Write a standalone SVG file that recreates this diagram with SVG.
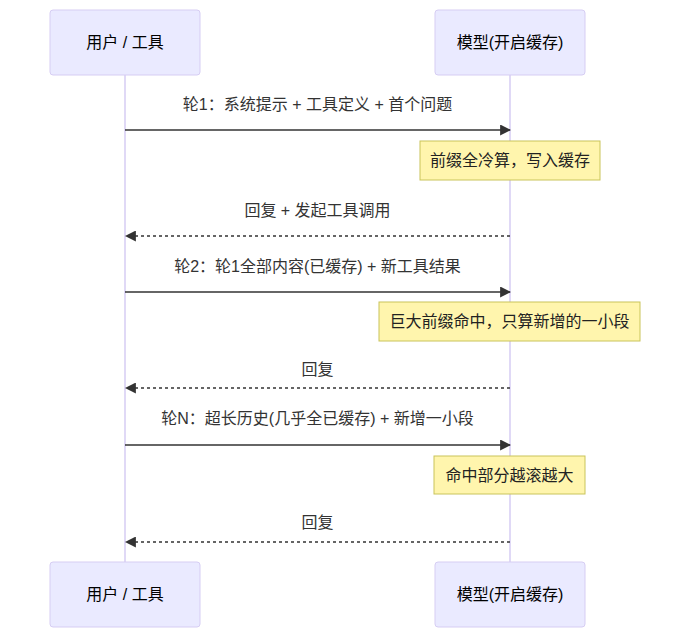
<svg xmlns="http://www.w3.org/2000/svg" width="690" height="638" viewBox="0 0 690 638">
<style>
  text { font-family: "Liberation Sans", "Noto Sans CJK SC", sans-serif; font-size: 16px; text-anchor: middle; dominant-baseline: central; }
  .actor rect { fill: #eaeaff; stroke: #d6cdf3; stroke-width: 1; }
  .actor text { fill: #000; }
  .lifeline { stroke: #d6cdf3; stroke-width: 1.5; fill: none; }
  .msg { stroke: #333; stroke-width: 1.5; fill: none; }
  .reply { stroke: #333; stroke-width: 1.5; fill: none; stroke-dasharray: 3 3; }
  .msgtext { fill: #333; }
  .note rect { fill: #fff5ad; stroke: #c9c45a; stroke-width: 1; }
  .note text { fill: #222; }
</style>
<defs>
  <marker id="arrow" viewBox="0 0 10 10" refX="9" refY="5" markerWidth="11" markerHeight="11" markerUnits="userSpaceOnUse" orient="auto">
    <path d="M0,0 L10,5 L0,10 z" fill="#333"/>
  </marker>
</defs>
<g id="lifelines">
  <line class="lifeline" x1="125" y1="75" x2="125" y2="562"/>
  <line class="lifeline" x1="510" y1="75" x2="510" y2="562"/>
</g>
<g id="actor-user-top" class="actor">
  <rect x="50" y="10" width="150" height="65" rx="3"/>
  <text x="125" y="42.5">用户 / 工具</text>
</g>
<g id="actor-model-top" class="actor">
  <rect x="435" y="10" width="150" height="65" rx="3"/>
  <text x="510" y="42.5">模型(开启缓存)</text>
</g>
<g id="actor-user-bottom" class="actor">
  <rect x="50" y="562" width="150" height="65" rx="3"/>
  <text x="125" y="594.5">用户 / 工具</text>
</g>
<g id="actor-model-bottom" class="actor">
  <rect x="435" y="562" width="150" height="65" rx="3"/>
  <text x="510" y="594.5">模型(开启缓存)</text>
</g>
<g id="connectors">
  <line class="msg" x1="125" y1="130" x2="510" y2="130" marker-end="url(#arrow)"/>
  <text class="msgtext" x="317.5" y="104">轮1：系统提示 + 工具定义 + 首个问题</text>
  <line class="reply" x1="510" y1="236" x2="126" y2="236" marker-end="url(#arrow)"/>
  <text class="msgtext" x="317.5" y="210">回复 + 发起工具调用</text>
  <line class="msg" x1="125" y1="292" x2="510" y2="292" marker-end="url(#arrow)"/>
  <text class="msgtext" x="317.5" y="266">轮2：轮1全部内容(已缓存) + 新工具结果</text>
  <line class="reply" x1="510" y1="388" x2="126" y2="388" marker-end="url(#arrow)"/>
  <text class="msgtext" x="317.5" y="369">回复</text>
  <line class="msg" x1="125" y1="445" x2="510" y2="445" marker-end="url(#arrow)"/>
  <text class="msgtext" x="317.5" y="418">轮N：超长历史(几乎全已缓存) + 新增一小段</text>
  <line class="reply" x1="510" y1="542" x2="126" y2="542" marker-end="url(#arrow)"/>
  <text class="msgtext" x="317.5" y="522">回复</text>
</g>
<g id="note1" class="note">
  <rect x="420" y="141" width="180" height="39"/>
  <text x="510" y="160.5">前缀全冷算，写入缓存</text>
</g>
<g id="note2" class="note">
  <rect x="379" y="302" width="261" height="39"/>
  <text x="509.5" y="321.5">巨大前缀命中，只算新增的一小段</text>
</g>
<g id="note3" class="note">
  <rect x="434" y="456" width="151" height="38"/>
  <text x="509.5" y="475">命中部分越滚越大</text>
</g>
</svg>
